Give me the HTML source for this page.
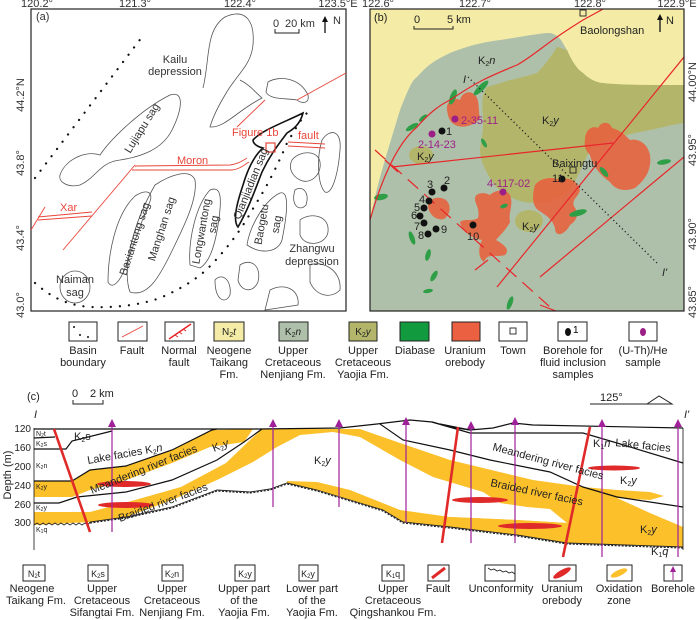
<!DOCTYPE html>
<html><head><meta charset="utf-8"><style>
html,body{margin:0;padding:0;background:#fff}
svg{display:block;font-family:"Liberation Sans",Arial,sans-serif}
</style></head><body>
<svg width="700" height="620" viewBox="0 0 700 620" xmlns="http://www.w3.org/2000/svg">
<defs>
<filter id="wig"><feTurbulence type="fractalNoise" baseFrequency="0.6" numOctaves="1" seed="3"/></filter>
</defs>
<!-- ===== Panel a ===== -->
<g font-size="11" fill="#333">
<text x="37" y="7" text-anchor="middle">120.2°</text>
<text x="135" y="7" text-anchor="middle">121.3°</text>
<text x="240" y="7" text-anchor="middle">122.4°</text>
<text x="338" y="7" text-anchor="middle">123.5°E</text>
<text transform="translate(24,95) rotate(-90)" text-anchor="middle">44.2°N</text>
<text transform="translate(24,163) rotate(-90)" text-anchor="middle">43.8°</text>
<text transform="translate(24,238) rotate(-90)" text-anchor="middle">43.4°</text>
<text transform="translate(24,305) rotate(-90)" text-anchor="middle">43.0°</text>
</g>
<rect x="31" y="9" width="315" height="302" fill="#fff" stroke="#222" stroke-width="1.2"/>
<g fill="none" stroke="#555" stroke-width="0.8">
<path d="M203,88 C210,60 205,30 225,17 C245,8 255,20 253,45 C251,66 236,75 225,95 C216,110 212,120 210,127 C225,128 238,110 262,98 C255,92 250,85 240,80"/>
<path d="M268,82 C280,75 300,78 308,95 C310,105 300,103 297,100 C285,98 270,100 266,92 Z"/>
<path d="M60,175 C65,160 85,150 100,155 C110,140 140,110 170,95 C185,90 182,110 172,130 C162,150 140,157 120,160 C100,162 96,178 80,185 C68,188 58,182 60,175 Z"/>
<path d="M108,282 C108,255 115,215 135,196 C148,188 155,192 148,206 C140,225 132,250 125,268 C120,282 112,290 108,282 Z"/>
<path d="M130,292 C122,270 132,225 155,185 C170,175 190,168 195,180 C198,200 182,230 170,255 C160,275 148,298 130,292 Z"/>
<path d="M190,265 C188,240 196,205 210,190 C222,185 222,200 218,225 C215,245 210,262 200,268 Z"/>
<path d="M247,245 C250,225 265,200 280,193 C290,190 287,215 282,240 C278,252 262,255 247,245 Z"/>
<ellipse cx="75" cy="287" rx="15" ry="16"/>
<path d="M292,160 C300,150 318,150 320,162 C322,175 310,185 300,180 C292,176 288,168 292,160 Z"/>
<path d="M322,140 C330,128 342,130 340,150 C338,175 332,195 325,192 C318,185 316,160 322,140 Z"/>
<path d="M295,190 C302,185 310,192 306,205 C300,212 290,206 295,190 Z"/>
<path d="M300,220 C310,212 330,215 328,232 C326,245 305,248 300,235 Z"/>
<path d="M240,265 C250,258 262,265 258,282 C252,295 240,290 238,280 Z"/>
<path d="M270,290 C285,282 300,290 298,305 L265,310 Z"/>
<path d="M310,265 C322,260 342,270 340,290 C330,300 315,295 310,282 Z"/>
<path d="M215,280 C222,272 232,280 230,295 C225,305 215,300 215,280 Z"/>
</g>
<path d="M253,140 C262,130 285,122 303,113 C300,125 292,130 287,133 C278,145 270,155 262,172 C255,190 248,210 238,227 C232,220 238,200 243,185 C248,168 255,155 263,148 C258,147 253,144 253,140 Z" fill="none" stroke="#111" stroke-width="1.6"/>
<path d="M35,178 L142,37" stroke="#111" stroke-width="2.2" stroke-dasharray="0.1 9" stroke-linecap="round" fill="none"/>
<path d="M35,283 C50,296 65,305 90,307 C115,308 140,305 160,298 C190,285 205,272 213,263 C230,245 243,227 255,205 C267,187 280,160 287,143 C295,130 300,120 307,113" stroke="#111" stroke-width="2.2" stroke-dasharray="0.1 9" stroke-linecap="round" fill="none"/>
<g stroke="#e8463a" stroke-width="0.9" fill="none">
<path d="M135,166 L230,165 C238,164 242,161 247,158"/>
<path d="M132,170 L232,170 C240,169 244,165 249,162"/>
<path d="M63,250 L135,165"/>
<path d="M31,230 L45,207"/>
<path d="M38,217 L92,212"/><path d="M38,220 L92,216"/>
<path d="M237,127 L265,100"/>
<path d="M297,100 L346,73"/>
<path d="M288,142 L325,144"/><path d="M288,146 L325,148"/>
<rect x="266" y="143" width="9" height="9" stroke-width="1.2"/>
</g>
<g font-size="11" fill="#e8463a">
<text x="232" y="136">Figure 1b</text>
<text x="298" y="139">fault</text>
<text x="177" y="164">Moron</text>
<text x="60" y="211">Xar</text>
</g>
<g font-size="11" fill="#333">
<text x="36" y="20">(a)</text>
<text x="175" y="63" text-anchor="middle">Kailu</text>
<text x="175" y="75" text-anchor="middle">depression</text>
<text transform="translate(145,130) rotate(-58)" text-anchor="middle">Lujiapu sag</text>
<text transform="translate(138,240) rotate(-72)" text-anchor="middle">Baxiantong sag</text>
<text transform="translate(165,230) rotate(-72)" text-anchor="middle">Manghan sag</text>
<text transform="translate(205,232) rotate(-80)" text-anchor="middle">Longwantong</text>
<text transform="translate(217,225) rotate(-80)" text-anchor="middle">sag</text>
<text transform="translate(254,185) rotate(-68)" text-anchor="middle">Qianjiadian sag</text>
<text transform="translate(265,225) rotate(-80)" text-anchor="middle">Baogetu</text>
<text transform="translate(280,225) rotate(-80)" text-anchor="middle">sag</text>
<text x="312" y="252" text-anchor="middle">Zhangwu</text>
<text x="312" y="265" text-anchor="middle">depression</text>
<text x="75" y="283" text-anchor="middle">Naiman</text>
<text x="75" y="296" text-anchor="middle">sag</text>
<text x="273" y="27">0</text><text x="285" y="27">20 km</text>
<path d="M275,29 V33 H299 V29" stroke="#222" fill="none"/>
<text x="333" y="24">N</text>
</g>
<path d="M325,33 V20" stroke="#111" stroke-width="1.3"/><path d="M322,22 L325,16 L328,22Z" fill="#111"/>

<!-- ===== Panel b ===== -->
<g font-size="11" fill="#333">
<text x="378" y="7" text-anchor="middle">122.6°</text>
<text x="475" y="7" text-anchor="middle">122.7°</text>
<text x="590" y="7" text-anchor="middle">122.8°</text>
<text x="677" y="7" text-anchor="middle">122.9°E</text>
<text transform="translate(696,82) rotate(-90)" text-anchor="middle">44.00°N</text>
<text transform="translate(696,150) rotate(-90)" text-anchor="middle">43.95°</text>
<text transform="translate(696,234) rotate(-90)" text-anchor="middle">43.90°</text>
<text transform="translate(696,302) rotate(-90)" text-anchor="middle">43.85°</text>
</g>
<svg x="370" y="9" width="314" height="302" viewBox="370 9 314 302">
<rect x="370" y="9" width="314" height="302" fill="#f4eca6"/>
<path d="M370,220 C378,180 388,150 400,110 C408,90 412,80 417,77 C430,62 440,58 450,53 C470,45 485,42 500,40 C520,37 540,33 550,33 C560,35 562,42 567,50 C572,62 578,70 583,73 C590,80 598,83 603,83 C615,85 630,86 684,85 L684,311 L370,311 Z" fill="#afc0aa"/>
<path d="M487,87 C495,85 500,83 510,80 C520,78 530,75 537,73 C545,65 552,55 557,47 C562,48 565,50 567,50 C572,62 578,70 583,73 C590,80 598,83 603,83 C620,85 650,85 684,85 L684,123 C670,125 660,128 650,130 C640,132 630,134 620,137 C605,140 595,145 590,150 C580,170 575,185 567,193 C555,200 545,203 537,203 C525,203 520,201 517,200 C505,195 498,190 493,183 C485,170 480,160 480,150 C482,135 484,125 483,117 C482,105 481,95 487,87 Z" fill="#b3b66a"/>
<ellipse cx="421" cy="155" rx="12" ry="9" fill="#b3b66a"/>
<ellipse cx="529" cy="221" rx="14" ry="11" fill="#b3b66a"/>
<g fill="#e8603c" fill-opacity="0.88">
<path d="M447,110 C446,100 455,97 460,100 C462,92 470,90 475,95 C480,100 478,110 480,118 C475,125 465,128 458,126 C450,124 448,117 447,110 Z"/>
<path d="M475,200 C474,192 485,192 490,195 C495,190 505,188 510,195 C514,205 508,212 510,222 C506,230 500,235 496,240 C505,245 510,250 505,255 C495,258 488,252 484,262 C478,258 478,248 482,240 C472,238 462,232 460,222 C465,218 472,222 478,218 C480,210 476,205 475,200 Z"/>
<path d="M428,205 C430,197 440,196 446,200 C452,206 450,215 444,219 C436,221 428,214 428,205 Z"/>
<path d="M535,185 C540,178 552,176 560,180 C570,176 578,182 580,190 C578,198 570,200 575,208 C580,215 575,222 570,225 C565,235 555,238 555,228 C552,218 545,215 538,210 C532,205 532,195 535,185 Z"/>
<path d="M585,140 C585,130 592,125 598,128 C602,120 610,122 612,128 C620,130 625,135 630,140 C640,138 648,145 650,155 C652,170 645,180 635,188 C625,192 615,190 610,182 C600,175 592,165 590,155 C585,150 584,145 585,140 Z"/>
</g>
<g fill="#2e9e47">
<ellipse cx="453" cy="97" rx="3" ry="8" transform="rotate(20 453 97)"/>
<ellipse cx="481" cy="88" rx="3" ry="10" transform="rotate(45 481 88)"/>
<ellipse cx="412" cy="127" rx="2.5" ry="7" transform="rotate(60 412 127)"/>
<ellipse cx="423" cy="118" rx="2" ry="5" transform="rotate(50 423 118)"/>
<ellipse cx="484" cy="143" rx="2" ry="5" transform="rotate(-30 484 143)"/>
<ellipse cx="381" cy="197" rx="3" ry="7" transform="rotate(80 381 197)"/>
<ellipse cx="412" cy="238" rx="2.5" ry="7" transform="rotate(-20 412 238)"/>
<ellipse cx="428" cy="255" rx="2.5" ry="6" transform="rotate(15 428 255)"/>
<ellipse cx="434" cy="276" rx="2.5" ry="6" transform="rotate(30 434 276)"/>
<ellipse cx="428" cy="291" rx="2" ry="5" transform="rotate(80 428 291)"/>
<ellipse cx="510" cy="303" rx="2.5" ry="7" transform="rotate(20 510 303)"/>
<ellipse cx="578" cy="213" rx="3" ry="9" transform="rotate(75 578 213)"/>
<ellipse cx="604" cy="172" rx="2.5" ry="6" transform="rotate(-40 604 172)"/>
<ellipse cx="664" cy="162" rx="2.5" ry="7" transform="rotate(80 664 162)"/>
<ellipse cx="504" cy="206" rx="2" ry="4" transform="rotate(70 504 206)"/>
</g>
<g stroke="#e8262a" stroke-width="1.2" fill="none">
<path d="M370,220 C380,185 395,145 417,127 C430,112 440,105 450,100 C465,90 475,84 483,80 C495,74 505,70 517,65 C530,58 545,45 557,37 C567,30 575,25 583,20 C590,16 598,12 603,9"/>
<path d="M392,167 L613,143"/>
<path d="M497,287 L684,57"/>
<path d="M540,277 L684,157"/>
<path d="M375,150 L550,307" stroke-dasharray="14 8"/>
<path d="M385,160 L398,172 M475,270 L488,260 M540,305 L556,311"/>
</g>
<path d="M468,77 L657,263" stroke="#222" stroke-width="1.3" stroke-dasharray="1.2 2.8" fill="none"/>
<g fill="#111">
<circle cx="442" cy="131" r="3.5"/><circle cx="444" cy="188" r="3.5"/>
<circle cx="432" cy="192" r="3.5"/><circle cx="429" cy="201" r="3.5"/>
<circle cx="424" cy="208" r="3.5"/><circle cx="420" cy="216" r="3.5"/>
<circle cx="424" cy="223" r="3.5"/><circle cx="428" cy="234" r="3.5"/>
<circle cx="436" cy="229" r="3.5"/><circle cx="473" cy="225" r="3.5"/>
<circle cx="562" cy="179" r="3.5"/>
</g>
<g fill="#9c1f87"><circle cx="455" cy="119" r="3.5"/><circle cx="432" cy="134" r="3.5"/><circle cx="503" cy="192" r="3.5"/></g>
<g font-size="11" fill="#222">
<text x="374" y="21">(b)</text>
<text x="414" y="23">0</text><text x="447" y="23">5 km</text>
<text x="580" y="34">Baolongshan</text>
<text x="666" y="24">N</text>
<text x="478" y="64">K<tspan font-size="7" dy="2">2</tspan><tspan dy="-2" font-style="italic">n</tspan></text>
<text x="542" y="124">K<tspan font-size="7" dy="2">2</tspan><tspan dy="-2" font-style="italic">y</tspan></text>
<text x="417" y="160">K<tspan font-size="7" dy="2">2</tspan><tspan dy="-2" font-style="italic">y</tspan></text>
<text x="522" y="230">K<tspan font-size="7" dy="2">2</tspan><tspan dy="-2" font-style="italic">y</tspan></text>
<text x="552" y="167">Baixingtu</text>
<text x="552" y="182">11</text>
<text x="446" y="135">1</text><text x="444" y="184">2</text><text x="427" y="188">3</text>
<text x="419" y="203">4</text><text x="414" y="211">5</text><text x="411" y="219">6</text>
<text x="414" y="230">7</text><text x="418" y="239">8</text><text x="441" y="233">9</text>
<text x="467" y="240">10</text>
<text x="463" y="83" font-style="italic">I</text><text x="662" y="276" font-style="italic">I'</text>
</g>
<g font-size="11" fill="#9c1f87">
<text x="461" y="124">2-35-11</text>
<text x="418" y="148">2-14-23</text>
<text x="487" y="187">4-117-02</text>
</g>
<path d="M414,26 V29 H453 V26" stroke="#222" fill="none"/>
<rect x="580" y="10" width="6" height="6" fill="none" stroke="#222" stroke-width="0.9"/>
<rect x="570" y="167" width="6" height="6" fill="none" stroke="#222" stroke-width="0.9"/>
<path d="M660,32 V18" stroke="#111" stroke-width="1.3"/><path d="M657,20 L660,14 L663,20Z" fill="#111"/>
</svg>
<rect x="370" y="9" width="314" height="302" fill="none" stroke="#222" stroke-width="1.2"/>

<!-- ===== legend 1 ===== -->
<g stroke="#222" stroke-width="1">
<rect x="69" y="322" width="28" height="19" fill="#fff"/>
<rect x="118" y="322" width="29" height="19" fill="#fff"/>
<rect x="165" y="322" width="29" height="19" fill="#fff"/>
<rect x="214" y="322" width="30" height="19" fill="#f4eca6"/>
<rect x="279" y="322" width="29" height="19" fill="#afc0aa"/>
<rect x="349" y="322" width="28" height="19" fill="#b3b66a"/>
<rect x="400" y="322" width="29" height="19" fill="#129a3f"/>
<rect x="452" y="322" width="28" height="19" fill="#ea6040"/>
<rect x="499" y="322" width="28" height="19" fill="#fff"/>
<rect x="558" y="322" width="29" height="19" fill="#fff"/>
<rect x="629" y="322" width="28" height="19" fill="#fff"/>
</g>
<g fill="#111"><circle cx="74" cy="327" r="1"/><circle cx="80" cy="335" r="1"/><circle cx="88" cy="337" r="1"/></g>
<path d="M122,337 L143,326" stroke="#e8463a" stroke-width="0.9"/>
<path d="M169,339 L191,324" stroke="#e8262a" stroke-width="1.5"/>
<path d="M175,335 l3,2 M179,332 l3,2 M183,329 l3,2" stroke="#e8262a"/>
<rect x="510" y="328" width="6" height="6" fill="none" stroke="#222" stroke-width="0.9"/>
<ellipse cx="568" cy="332" rx="3" ry="4" fill="#111"/><text x="573" y="333" font-size="10">1</text>
<ellipse cx="643" cy="332" rx="3" ry="4" fill="#9c1f87"/>
<g font-size="10" fill="#222">
<text x="229" y="335" text-anchor="middle">N<tspan font-size="7" dy="2">2</tspan><tspan dy="-2" font-style="italic">t</tspan></text>
<text x="293" y="335" text-anchor="middle">K<tspan font-size="7" dy="2">2</tspan><tspan dy="-2" font-style="italic">n</tspan></text>
<text x="363" y="335" text-anchor="middle">K<tspan font-size="7" dy="2">2</tspan><tspan dy="-2" font-style="italic">y</tspan></text>
</g>
<g font-size="11" fill="#222" text-anchor="middle">
<text x="83" y="354">Basin</text><text x="83" y="366">boundary</text>
<text x="132" y="354">Fault</text>
<text x="179" y="354">Normal</text><text x="179" y="366">fault</text>
<text x="229" y="354">Neogene</text><text x="229" y="366">Taikang</text><text x="229" y="378">Fm.</text>
<text x="293" y="354">Upper</text><text x="293" y="366">Cretaceous</text><text x="293" y="378">Nenjiang Fm.</text>
<text x="363" y="354">Upper</text><text x="363" y="366">Cretaceous</text><text x="363" y="378">Yaojia Fm.</text>
<text x="415" y="354">Diabase</text>
<text x="465" y="354">Uranium</text><text x="465" y="366">orebody</text>
<text x="513" y="354">Town</text>
<text x="573" y="354">Borehole for</text><text x="573" y="366">fluid inclusion</text><text x="573" y="378">samples</text>
<text x="643" y="354">(U-Th)/He</text><text x="643" y="366">sample</text>
</g>

<!-- ===== Panel c ===== -->
<g font-size="11" fill="#222">
<text x="27" y="400">(c)</text>
<text x="72" y="397">0</text><text x="90" y="397">2 km</text>
<text x="600" y="401">125°</text>
<text x="34" y="418" font-style="italic">I</text>
<text x="684" y="418" font-style="italic">I'</text>
</g>
<path d="M73,400 V404 H103 V400" stroke="#222" fill="none"/>
<path d="M590,404 H672 L659,396 L647,404" stroke="#222" fill="none"/>
<g fill="#fbc02a">
<path d="M34,481 L72,481 L90,470 L126,466 L172,450 L212,430 L253,429 L244,442 L210,447 L172,463 L126,480 L90,490 L72,497 L34,497 Z"/>
<path d="M34,512 L90,512 L135,500 L181,487 L226,463 L250,440 L262,429 L360,429 L400,443 L450,460 L483,468 L533,480 L583,487 L617,490 L650,492 L664,496 L650,500 L617,498 L650,513 L683,527 L683,547 L567,543 L517,535 L450,527 L403,522 L450,517 L517,520 L567,523 L550,509 L527,507 L500,503 L483,492 L433,477 L400,460 L360,437 L333,432 L300,435 L277,447 L253,462 L217,480 L172,500 L126,517 L90,522 L34,525 Z"/>
<path d="M287,481 L317,482 L350,490 L400,510 L450,517 L517,520 L567,523 L617,520 L683,527 L683,547 L567,543 L517,535 L450,527 L403,522 L383,510 L350,500 L317,490 L287,483 Z"/>
</g>
<g stroke="#111" fill="none" stroke-width="1.2">
<path d="M34,429 L260,429 L340,428 L377,424 L410,420 L432,422 L450,427 L470,430 L493,428 L513,423 L533,425 L683,428"/>
<path d="M34,438 L55,437"/>
<path d="M34,449 L66,449 L72,441 L112,431"/>
<path d="M34,481 L72,481 L90,470 L126,466 L172,450 L212,430 L217,429"/>
<path d="M34,503 L59,503 L77,497 L126,492 L172,480 L217,460 L244,442 L262,429"/>
<path d="M380,424 L403,440 L450,450 L490,460 L550,472 L583,487 L617,497 L683,507"/>
<path d="M432,422 L470,433 L583,433 L617,443 L683,463"/>
<path d="M440,424 L470,430"/>
<path d="M34,428 V550 M683,428 V550" stroke-width="0.8"/>
</g>
<path d="M34,525 l3,-2 l3,2 l3,-2 l3,2 l3,-2 l3,2 l3,-2 l3,2 l3,-2 l3,2 l3,-2 l3,2 l3,-2 l3,2 l3,-2 l3,2 l3,-2 l3,2 L90,522 L126,517 L172,507 L217,490 L250,492 L270,489 L287,483 L317,490 L350,500 L383,510 L403,522 L450,527 L517,535 L567,543 L683,547" stroke="#222" stroke-width="0.9" fill="none"/>
<path d="M90,522 L126,517 L172,507 L217,490 L250,492 L270,489 L287,483 L317,490 L350,500 L383,510 L403,522 L450,527 L517,535 L567,543 L683,547" stroke="#222" stroke-width="1.2" fill="none" stroke-dasharray="2 1.5" transform="translate(0,1)"/>
<g fill="#e02a2a">
<ellipse cx="124" cy="484" rx="27" ry="3"/>
<ellipse cx="126" cy="505" rx="28" ry="3"/>
<ellipse cx="480" cy="500" rx="28" ry="3"/>
<ellipse cx="530" cy="526" rx="32" ry="3"/>
<ellipse cx="614" cy="468" rx="26" ry="2.5"/>
</g>
<g stroke="#e02a2a" stroke-width="2.6">
<path d="M54,429 L90,532"/><path d="M458,427 L442,543"/><path d="M590,427 L563,557"/>
</g>
<g stroke="#a0209a" stroke-width="1.2" fill="none">
<path d="M112,423 V532"/><path d="M273,423 V507"/><path d="M339,423 V507"/><path d="M406,421 V523"/>
<path d="M471,425 V543"/><path d="M515,421 V543"/><path d="M602,423 V557"/><path d="M678,423 V557"/>
</g>
<g fill="#a0209a">
<path d="M108,427 L112,419 L116,427 Z"/><path d="M269,427 L273,419 L277,427Z"/><path d="M335,427 L339,419 L343,427Z"/><path d="M402,425 L406,417 L410,425Z"/>
<path d="M467,429 L471,421 L475,429Z"/><path d="M511,425 L515,417 L519,425Z"/><path d="M598,427 L602,419 L606,427Z"/><path d="M674,427 L678,419 L682,427Z"/>
</g>
<g font-size="10" fill="#222" text-anchor="end">
<text x="31" y="432">120</text><text x="31" y="451">160</text><text x="31" y="470">200</text>
<text x="31" y="489">240</text><text x="31" y="508">260</text><text x="31" y="526">300</text>
</g>
<text transform="translate(11,475) rotate(-90)" font-size="11" text-anchor="middle" fill="#222">Depth (m)</text>
<g font-size="7" fill="#222">
<text x="36" y="436">N<tspan font-size="5" dy="1">2</tspan><tspan dy="-1">t</tspan></text>
<text x="36" y="446">K<tspan font-size="5" dy="1">2</tspan><tspan dy="-1">s</tspan></text>
<text x="36" y="468">K<tspan font-size="5" dy="1">2</tspan><tspan dy="-1">n</tspan></text>
<text x="36" y="489">K<tspan font-size="5" dy="1">2</tspan><tspan dy="-1">y</tspan></text>
<text x="36" y="510">K<tspan font-size="5" dy="1">2</tspan><tspan dy="-1">y</tspan></text>
<text x="36" y="532">K<tspan font-size="5" dy="1">1</tspan><tspan dy="-1">q</tspan></text>
</g>
<g font-size="11" fill="#222">
<text x="74" y="440">K<tspan font-size="7" dy="2">2</tspan><tspan dy="-2">s</tspan></text>
<text transform="translate(88,464) rotate(-10)">Lake facies  K<tspan font-size="7" dy="2">2</tspan><tspan dy="-2" font-style="italic">n</tspan></text>
<text transform="translate(92,494) rotate(-22)">Meandering river facies</text>
<text transform="translate(214,452) rotate(-22)">K<tspan font-size="7" dy="2">2</tspan><tspan dy="-2" font-style="italic">y</tspan></text>
<text transform="translate(120,522) rotate(-20)">Braided river facies</text>
<text x="314" y="464">K<tspan font-size="7" dy="2">2</tspan><tspan dy="-2" font-style="italic">y</tspan></text>
<text x="593" y="447">K<tspan font-size="7" dy="2">1</tspan><tspan dy="-2" font-style="italic">n</tspan></text>
<text transform="translate(615,446) rotate(6)">Lake facies</text>
<text transform="translate(492,450) rotate(15)">Meandering river facies</text>
<text x="620" y="484">K<tspan font-size="7" dy="2">2</tspan><tspan dy="-2" font-style="italic">y</tspan></text>
<text transform="translate(490,486) rotate(12)">Braided river facies</text>
<text x="640" y="533">K<tspan font-size="7" dy="2">2</tspan><tspan dy="-2" font-style="italic">y</tspan></text>
<text x="651" y="555">K<tspan font-size="7" dy="2">1</tspan><tspan dy="-2" font-style="italic">q</tspan></text>
</g>

<!-- ===== legend 2 ===== -->
<g stroke="#222" stroke-width="1" fill="#fff">
<rect x="23" y="565" width="22" height="16"/><rect x="88" y="565" width="20" height="16"/>
<rect x="162" y="565" width="21" height="16"/><rect x="235" y="565" width="20" height="16"/>
<rect x="299" y="565" width="19" height="16"/><rect x="382" y="565" width="22" height="16"/>
<rect x="428" y="565" width="21" height="16"/><rect x="485" y="565" width="30" height="16"/>
<rect x="549" y="565" width="27" height="16"/><rect x="607" y="565" width="25" height="16"/>
<rect x="664" y="565" width="18" height="16"/>
</g>
<g font-size="9" fill="#222" text-anchor="middle">
<text x="34" y="577">N<tspan font-size="6" dy="1">2</tspan><tspan dy="-1">t</tspan></text>
<text x="98" y="577">K<tspan font-size="6" dy="1">2</tspan><tspan dy="-1">s</tspan></text>
<text x="172" y="577">K<tspan font-size="6" dy="1">2</tspan><tspan dy="-1">n</tspan></text>
<text x="245" y="577">K<tspan font-size="6" dy="1">2</tspan><tspan dy="-1">y</tspan></text>
<text x="308" y="577">K<tspan font-size="6" dy="1">2</tspan><tspan dy="-1">y</tspan></text>
<text x="393" y="577">K<tspan font-size="6" dy="1">1</tspan><tspan dy="-1">q</tspan></text>
</g>
<path d="M432,578 L445,568" stroke="#e02a2a" stroke-width="3"/>
<path d="M488,568 l3,2 l3,-1 l3,2 l3,-1 l3,2 l3,-1 l3,2 l3,-1 l3,2" stroke="#222" stroke-width="0.9" fill="none"/>
<ellipse cx="562" cy="573" rx="10" ry="3" transform="rotate(-30 562 573)" fill="#e02a2a"/>
<ellipse cx="619" cy="573" rx="9" ry="3" transform="rotate(-25 619 573)" fill="#fbc02a"/>
<path d="M673,580 V569" stroke="#a0209a"/><path d="M670,572 L673,566 L676,572Z" fill="#a0209a"/>
<g font-size="11" fill="#222" text-anchor="middle">
<text x="32" y="592">Neogene</text><text x="36" y="604">Taikang Fm.</text>
<text x="102" y="592">Upper</text><text x="102" y="604">Cretaceous</text><text x="102" y="616">Sifangtai Fm.</text>
<text x="172" y="592">Upper</text><text x="172" y="604">Cretaceous</text><text x="172" y="616">Nenjiang Fm.</text>
<text x="244" y="592">Upper part</text><text x="244" y="604">of the</text><text x="244" y="616">Yaojia Fm.</text>
<text x="312" y="592">Lower part</text><text x="312" y="604">of the</text><text x="312" y="616">Yaojia Fm.</text>
<text x="393" y="592">Upper</text><text x="393" y="604">Cretaceous</text><text x="393" y="616">Qingshankou Fm.</text>
<text x="438" y="592">Fault</text>
<text x="501" y="592">Unconformity</text>
<text x="562" y="592">Uranium</text><text x="562" y="604">orebody</text>
<text x="619" y="592">Oxidation</text><text x="619" y="604">zone</text>
<text x="673" y="592">Borehole</text>
</g>
</svg>
</body></html>
